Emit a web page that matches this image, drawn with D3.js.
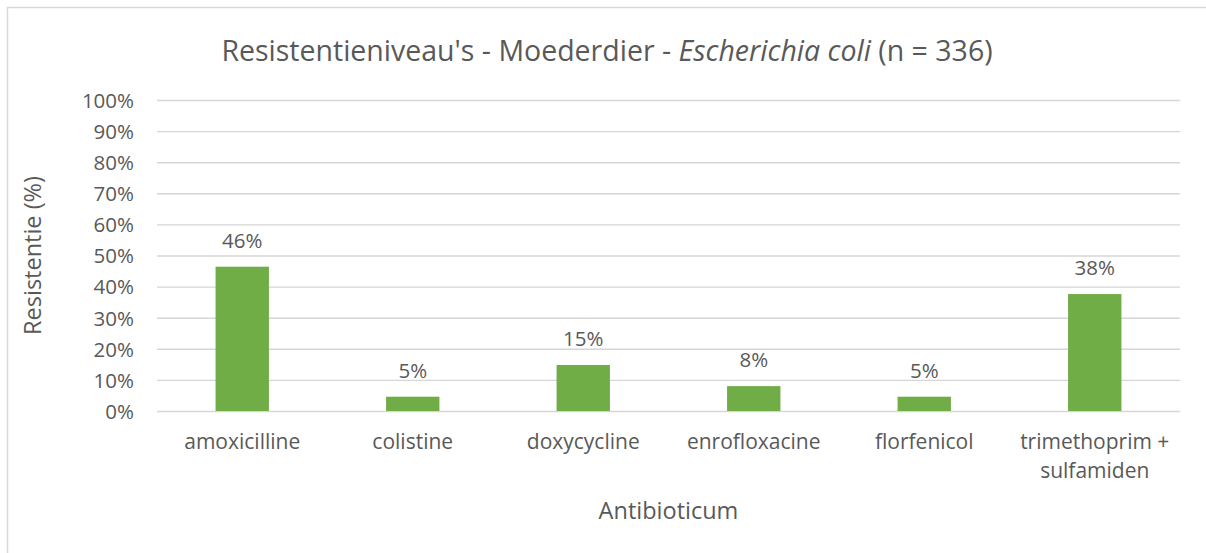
<!DOCTYPE html>
<html>
<head>
<meta charset="utf-8">
<script src="https://cdn.jsdelivr.net/npm/d3@7"></script>
<style>
  body { margin: 0; background: #fff; }
  svg text { font-family: "Open Sans", Lato, sans-serif; fill: #595959; }
</style>
</head>
<body>
<div class="chart"></div>
<script>
// values
const categories = ['amoxicilline', 'colistine', 'doxycycline', 'enrofloxacine', 'florfenicol', 'trimethoprim + sulfamiden'];
const categoryLines = [['amoxicilline'], ['colistine'], ['doxycycline'], ['enrofloxacine'], ['florfenicol'], ['trimethoprim +', 'sulfamiden']];
const resistance = [46.4, 4.6, 14.8, 8.0, 4.6, 37.6];
const valueLabels = ['46%', '5%', '15%', '8%', '5%', '38%'];
const yTicks = [0, 10, 20, 30, 40, 50, 60, 70, 80, 90, 100];

function draw_bars() {
    const width = 1206, height = 553;
    const margin = {top: 100, right: 26, bottom: 142, left: 157};

    const svg = d3.select('.chart')
        .append('svg')
        .attr('width', width)
        .attr('height', height);

    // chart frame (only top and left edges are visible)
    svg.append('rect')
        .attr('x', 7.5).attr('y', 7.5)
        .attr('width', width + 10).attr('height', height + 10)
        .attr('fill', 'none')
        .attr('stroke', '#d9d9d9')
        .attr('stroke-width', 1.5);

    const x = d3.scaleBand()
        .domain(categories)
        .range([margin.left, width - margin.right])
        .paddingInner(0.687)
        .paddingOuter(0.3435);

    const y = d3.scaleLinear()
        .domain([0, 100])
        .range([height - margin.bottom, margin.top]);

    // gridlines
    svg.append('g')
        .selectAll('line')
        .data(yTicks)
        .join('line')
        .attr('x1', margin.left)
        .attr('x2', width - margin.right)
        .attr('y1', d => y(d) + 0.5)
        .attr('y2', d => y(d) + 0.5)
        .attr('stroke', '#d6d6d6')
        .attr('stroke-width', 1.4);

    // y axis labels
    const yAxis = d3.axisLeft(y)
        .tickValues(yTicks)
        .tickFormat(d => d + '%')
        .tickSize(0)
        .tickPadding(23);
    svg.append('g')
        .attr('transform', `translate(${margin.left}, 0)`)
        .call(yAxis)
        .call(g => g.select('.domain').remove())
        .call(g => g.selectAll('text')
            .attr('font-size', 20.5)
            .attr('dy', '0.36em')
            .style('font-family', '"Open Sans", sans-serif')
            .attr('fill', '#595959'));

    // bars
    svg.append('g')
        .selectAll('rect')
        .data(resistance)
        .join('rect')
        .attr('x', (d, i) => x(categories[i]))
        .attr('width', x.bandwidth())
        .attr('y', d => y(d))
        .attr('height', d => y(0) - y(d))
        .attr('fill', '#70ad47');

    // bar value labels
    svg.append('g')
        .attr('text-anchor', 'middle')
        .attr('font-size', 20.5)
        .selectAll('text')
        .data(resistance)
        .join('text')
        .attr('x', (d, i) => x(categories[i]) + x.bandwidth() / 2)
        .attr('y', d => y(d) - 19)
        .text((d, i) => valueLabels[i]);

    // category labels
    svg.append('g')
        .attr('text-anchor', 'middle')
        .attr('font-size', 21)
        .selectAll('text')
        .data(categories)
        .join('text')
        .attr('x', d => x(d) + x.bandwidth() / 2)
        .attr('y', y(0) + 38)
        .each(function (d, i) {
            d3.select(this).selectAll('tspan')
                .data(categoryLines[i])
                .join('tspan')
                .attr('x', x(d) + x.bandwidth() / 2)
                .attr('dy', (t, j) => j === 0 ? 0 : 29)
                .text(t => t);
        });

    // axis titles
    svg.append('text')
        .attr('text-anchor', 'middle')
        .attr('font-size', 23.5)
        .attr('x', (margin.left + width - margin.right) / 2)
        .attr('y', 519)
        .text('Antibioticum');

    svg.append('text')
        .attr('text-anchor', 'middle')
        .attr('font-size', 23.5)
        .attr('transform', `translate(41, ${y(50)}) rotate(-90)`)
        .text('Resistentie (%)');

    // title with italic species name
    const title = svg.append('text')
        .attr('text-anchor', 'middle')
        .attr('font-size', 28.5)
        .attr('x', 607)
        .attr('y', 61);
    title.append('tspan').text("Resistentieniveau's - Moederdier - ");
    title.append('tspan').attr('font-style', 'italic').text('Escherichia coli');
    title.append('tspan').text(' (n = 336)');
}

draw_bars();
</script>
</body>
</html>
